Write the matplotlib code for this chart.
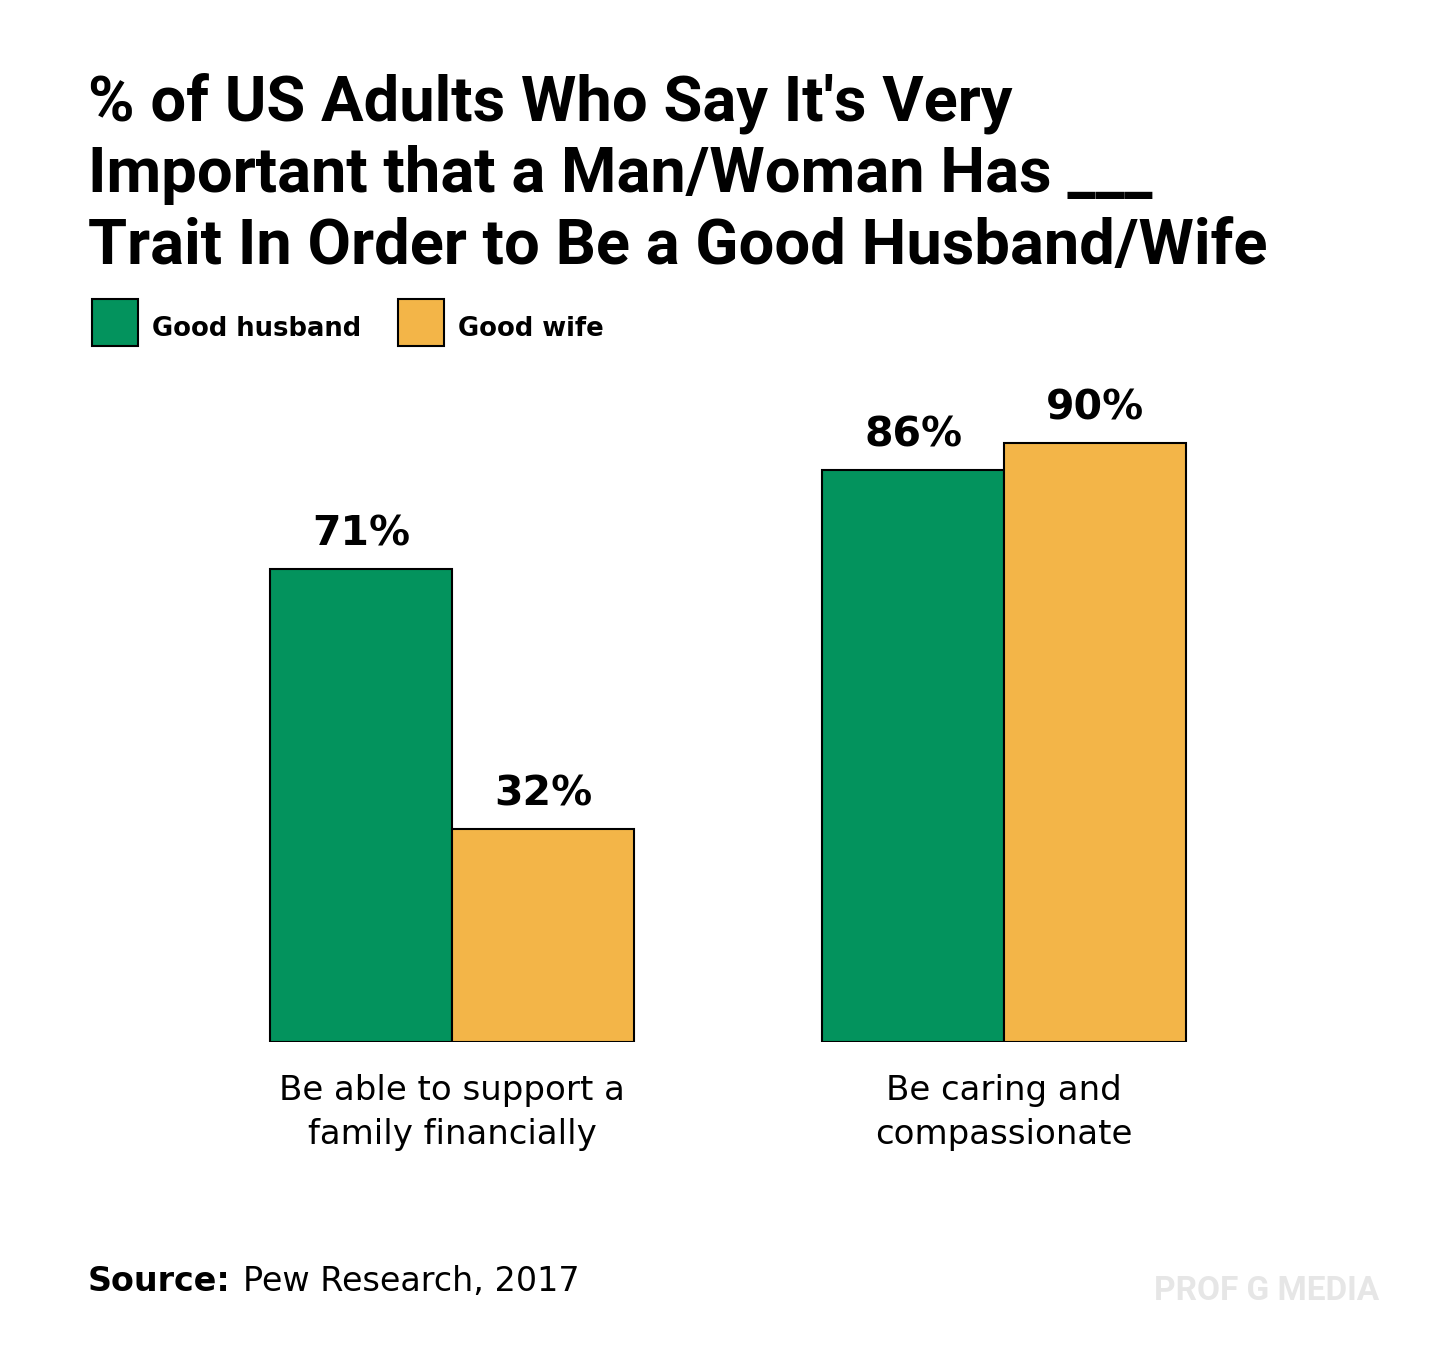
import matplotlib
matplotlib.use("Agg")
import matplotlib.pyplot as plt
from matplotlib.patches import Rectangle
import numpy as np

categories = ["Be able to support a\nfamily financially", "Be caring and\ncompassionate"]
series_names = ["Good husband", "Good wife"]
husband = [71, 86]
wife = [32, 90]
colors = ["#03935D", "#F3B548"]
title_lines = ["% of US Adults Who Say It's Very",
               "Important that a Man/Woman Has ___",
               "Trait In Order to Be a Good Husband/Wife"]

W, H = 1456, 1364
fig = plt.figure(figsize=(W / 100, H / 100), dpi=100)
fig.patch.set_facecolor("white")

def fx(px):
    return px / W

def fy(py):
    return 1 - py / H

TFONT = ["Roboto", "DejaVu Sans"]
BFONT = ["DejaVu Sans"]

# axes: bars region
ax_left, ax_right = 200, 1256
base_y = 1042
top_y = base_y - 665.5
ax = fig.add_axes([fx(ax_left), fy(base_y), (ax_right - ax_left) / W, (base_y - top_y) / H])
ax.set_xlim(-0.4565, 1.4565)
ax.set_ylim(0, 100)
ax.axis("off")

x = np.arange(len(categories))
w = 182 / 552
vals = [husband, wife]
for i, v in enumerate(vals):
    pos = x + (i - 0.5) * w
    bars = ax.bar(pos, v, width=w, color=colors[i], edgecolor="black", linewidth=1.5, zorder=2)
    for b, val in zip(bars, v):
        ax.annotate(f"{val}%", (b.get_x() + b.get_width() / 2, b.get_height()),
                    xytext=(0, 17), textcoords="offset points", ha="center", va="baseline",
                    fontsize=29.5, fontweight="bold", family=BFONT, color="black")

for xi, cat in zip(x, categories):
    for j, line in enumerate(cat.split("\n")):
        ax.annotate(line, (xi, 0), xytext=(0, -(58 + 44 * j) * 0.72), textcoords="offset points",
                    ha="center", va="baseline", fontsize=24.5, family=BFONT, color="black",
                    annotation_clip=False)

# title
for j, line in enumerate(title_lines):
    fig.text(fx(88), fy(120 + 72 * j), line, ha="left", va="baseline", fontsize=45.5,
             fontweight="bold", family=TFONT, color="black")

# legend
for i, name in enumerate(series_names):
    lx = [92, 398][i]
    fig.add_artist(Rectangle((fx(lx), fy(346)), 46 / W, 47 / H, transform=fig.transFigure,
                             facecolor=colors[i], edgecolor="black", linewidth=1.5))
    fig.text(fx(lx + 60), fy(336), name, ha="left", va="baseline", fontsize=18.6,
             fontweight="bold", family=BFONT, color="black")

# source
t = fig.text(fx(88), fy(1291), "Source:", ha="left", va="baseline", fontsize=24,
             fontweight="bold", family=BFONT, color="black")
fig.canvas.draw()
bb = t.get_window_extent()
fig.text(bb.x1 / W + 12 / W, fy(1291), "Pew Research, 2017", ha="left", va="baseline",
         fontsize=24, family=BFONT, color="black")

# watermark
fig.text(fx(1379), fy(1300), "PROF G MEDIA", ha="right", va="baseline", fontsize=24,
         fontweight="bold", family=TFONT, color="#E6E6E6")

fig.savefig("out.png", dpi=100, facecolor="white")
